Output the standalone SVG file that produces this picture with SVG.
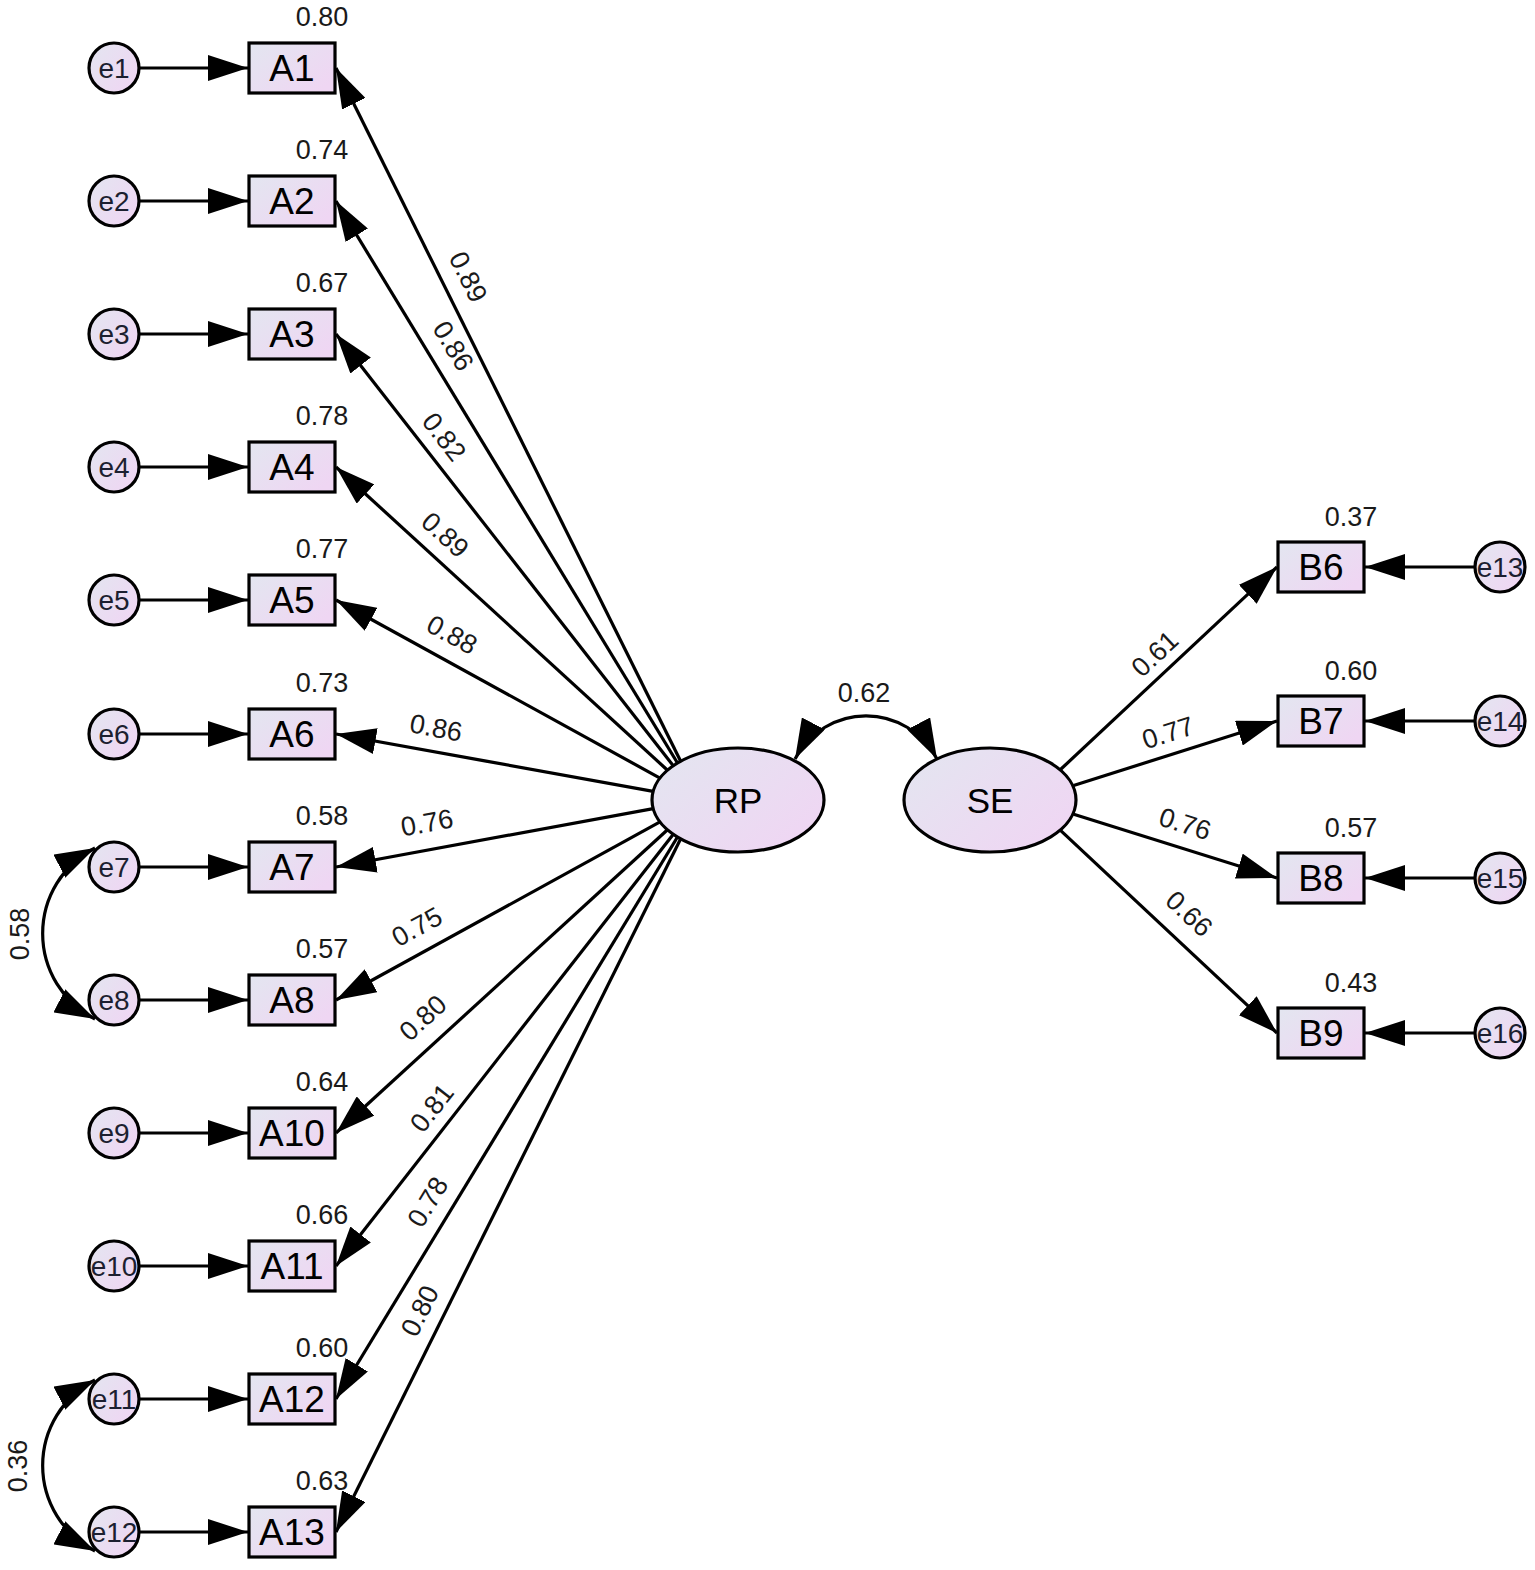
<svg xmlns="http://www.w3.org/2000/svg" width="1535" height="1570" viewBox="0 0 1535 1570">
<defs>
<linearGradient id="fill" x1="0" y1="0" x2="1" y2="0.7">
<stop offset="0" stop-color="#e3e6f0"/>
<stop offset="1" stop-color="#efd6f3"/>
</linearGradient>
<marker id="ah" viewBox="0 0 40 26" markerWidth="40" markerHeight="26" refX="40" refY="13" orient="auto" markerUnits="userSpaceOnUse">
<path d="M0,0 L40,13 L0,26 Z" fill="#000"/>
</marker>
<marker id="ah2" viewBox="0 0 40 26" markerWidth="40" markerHeight="26" refX="40" refY="13" orient="auto-start-reverse" markerUnits="userSpaceOnUse">
<path d="M0,0 L40,13 L0,26 Z" fill="#000"/>
</marker>
</defs>
<style>
.node{fill:url(#fill);stroke:#000;stroke-width:3.2}
.ln{stroke:#000;stroke-width:3.2;fill:none;marker-end:url(#ah)}
.cov{stroke:#000;stroke-width:3.2;fill:none;marker-start:url(#ah2);marker-end:url(#ah2)}
text{font-family:"Liberation Sans",Arial,sans-serif;fill:#1a1a1a}
.bx{font-size:37px;text-anchor:middle;fill:#000}
.lat{font-size:35px;text-anchor:middle;fill:#000}
.er{font-size:28px;text-anchor:middle;fill:#1c1f30}
.val{font-size:27px;text-anchor:middle}
</style>
<rect width="1535" height="1570" fill="#fff"/>

<g id="connectors">
<line class="ln" x1="139" y1="68" x2="248" y2="68"/>
<line class="ln" x1="139" y1="201" x2="248" y2="201"/>
<line class="ln" x1="139" y1="334" x2="248" y2="334"/>
<line class="ln" x1="139" y1="467" x2="248" y2="467"/>
<line class="ln" x1="139" y1="600" x2="248" y2="600"/>
<line class="ln" x1="139" y1="734" x2="248" y2="734"/>
<line class="ln" x1="139" y1="867" x2="248" y2="867"/>
<line class="ln" x1="139" y1="1000" x2="248" y2="1000"/>
<line class="ln" x1="139" y1="1133" x2="248" y2="1133"/>
<line class="ln" x1="139" y1="1266" x2="248" y2="1266"/>
<line class="ln" x1="139" y1="1399" x2="248" y2="1399"/>
<line class="ln" x1="139" y1="1532" x2="248" y2="1532"/>

<line class="ln" x1="1475" y1="567" x2="1365" y2="567"/>
<line class="ln" x1="1475" y1="721" x2="1365" y2="721"/>
<line class="ln" x1="1475" y1="878" x2="1365" y2="878"/>
<line class="ln" x1="1475" y1="1033" x2="1365" y2="1033"/>

<line class="ln" x1="680.7" y1="761.2" x2="336" y2="68"/>
<line class="ln" x1="677.5" y1="763.0" x2="336" y2="201"/>
<line class="ln" x1="673.3" y1="765.8" x2="336" y2="334"/>
<line class="ln" x1="667.5" y1="770.2" x2="336" y2="467"/>
<line class="ln" x1="660.0" y1="778.1" x2="336" y2="600"/>
<line class="ln" x1="653.2" y1="791.4" x2="336" y2="734"/>
<line class="ln" x1="653.2" y1="808.6" x2="336" y2="867"/>
<line class="ln" x1="660.0" y1="821.9" x2="336" y2="1000"/>
<line class="ln" x1="667.5" y1="829.8" x2="336" y2="1133"/>
<line class="ln" x1="673.3" y1="834.2" x2="336" y2="1266"/>
<line class="ln" x1="677.5" y1="837.0" x2="336" y2="1399"/>
<line class="ln" x1="680.7" y1="838.8" x2="336" y2="1532"/>

<line class="ln" x1="1060.5" y1="769.5" x2="1277" y2="567"/>
<line class="ln" x1="1073.6" y1="785.5" x2="1277" y2="721"/>
<line class="ln" x1="1073.7" y1="814.3" x2="1277" y2="878"/>
<line class="ln" x1="1060.5" y1="830.4" x2="1277" y2="1033"/>

<path class="cov" d="M795,759 A80,80 0 0,1 937,759"/>
<path class="cov" d="M95,848 A96,96 0 0,0 95,1019"/>
<path class="cov" d="M95,1380 A96,96 0 0,0 95,1551"/>

<g id="path-labels">
<text class="val" transform="translate(468,277) rotate(63.7)" y="9">0.89</text>
<text class="val" transform="translate(453,346) rotate(58.8)" y="9">0.86</text>
<text class="val" transform="translate(444,437) rotate(52)" y="9">0.82</text>
<text class="val" transform="translate(445,535) rotate(42.5)" y="9">0.89</text>
<text class="val" transform="translate(452,635) rotate(28.6)" y="9">0.88</text>
<text class="val" transform="translate(436,728) rotate(10.4)" y="9">0.86</text>
<text class="val" transform="translate(427,823) rotate(-10.4)" y="9">0.76</text>
<text class="val" transform="translate(417,927) rotate(-28.6)" y="9">0.75</text>
<text class="val" transform="translate(423,1018) rotate(-42.5)" y="9">0.80</text>
<text class="val" transform="translate(432,1108) rotate(-52)" y="9">0.81</text>
<text class="val" transform="translate(428,1202) rotate(-58.8)" y="9">0.78</text>
<text class="val" transform="translate(420,1311) rotate(-63.7)" y="9">0.80</text>
<text class="val" transform="translate(1155,654) rotate(-43.2)" y="9">0.61</text>
<text class="val" transform="translate(1168,733) rotate(-17.8)" y="9">0.77</text>
<text class="val" transform="translate(1185,824) rotate(17.5)" y="9">0.76</text>
<text class="val" transform="translate(1189,914) rotate(43.1)" y="9">0.66</text>
<text class="val" x="864" y="702">0.62</text>
<text class="val" transform="translate(20,934) rotate(-90)" y="9">0.58</text>
<text class="val" transform="translate(18,1466) rotate(-90)" y="9">0.36</text>
</g>
</g>

<g id="RP"><ellipse class="node" cx="738" cy="800" rx="86" ry="52"/><text class="lat" x="738" y="813">RP</text></g>
<g id="SE"><ellipse class="node" cx="990" cy="800" rx="86" ry="52"/><text class="lat" x="990" y="813">SE</text></g>

<g id="A1"><rect class="node" x="249" y="43" width="86" height="50"/><text class="bx" x="292" y="81">A1</text><text class="val" x="322" y="26">0.80</text></g>
<g id="A2"><rect class="node" x="249" y="176" width="86" height="50"/><text class="bx" x="292" y="214">A2</text><text class="val" x="322" y="159">0.74</text></g>
<g id="A3"><rect class="node" x="249" y="309" width="86" height="50"/><text class="bx" x="292" y="347">A3</text><text class="val" x="322" y="292">0.67</text></g>
<g id="A4"><rect class="node" x="249" y="442" width="86" height="50"/><text class="bx" x="292" y="480">A4</text><text class="val" x="322" y="425">0.78</text></g>
<g id="A5"><rect class="node" x="249" y="575" width="86" height="50"/><text class="bx" x="292" y="613">A5</text><text class="val" x="322" y="558">0.77</text></g>
<g id="A6"><rect class="node" x="249" y="709" width="86" height="50"/><text class="bx" x="292" y="747">A6</text><text class="val" x="322" y="692">0.73</text></g>
<g id="A7"><rect class="node" x="249" y="842" width="86" height="50"/><text class="bx" x="292" y="880">A7</text><text class="val" x="322" y="825">0.58</text></g>
<g id="A8"><rect class="node" x="249" y="975" width="86" height="50"/><text class="bx" x="292" y="1013">A8</text><text class="val" x="322" y="958">0.57</text></g>
<g id="A10"><rect class="node" x="249" y="1108" width="86" height="50"/><text class="bx" x="292" y="1146">A10</text><text class="val" x="322" y="1091">0.64</text></g>
<g id="A11"><rect class="node" x="249" y="1241" width="86" height="50"/><text class="bx" x="292" y="1279">A11</text><text class="val" x="322" y="1224">0.66</text></g>
<g id="A12"><rect class="node" x="249" y="1374" width="86" height="50"/><text class="bx" x="292" y="1412">A12</text><text class="val" x="322" y="1357">0.60</text></g>
<g id="A13"><rect class="node" x="249" y="1507" width="86" height="50"/><text class="bx" x="292" y="1545">A13</text><text class="val" x="322" y="1490">0.63</text></g>

<g id="B6"><rect class="node" x="1278" y="542" width="86" height="50"/><text class="bx" x="1321" y="580">B6</text><text class="val" x="1351" y="526">0.37</text></g>
<g id="B7"><rect class="node" x="1278" y="696" width="86" height="50"/><text class="bx" x="1321" y="734">B7</text><text class="val" x="1351" y="680">0.60</text></g>
<g id="B8"><rect class="node" x="1278" y="853" width="86" height="50"/><text class="bx" x="1321" y="891">B8</text><text class="val" x="1351" y="837">0.57</text></g>
<g id="B9"><rect class="node" x="1278" y="1008" width="86" height="50"/><text class="bx" x="1321" y="1046">B9</text><text class="val" x="1351" y="992">0.43</text></g>

<g id="e1"><circle class="node" cx="114" cy="68" r="25"/><text class="er" x="114" y="78">e1</text></g>
<g id="e2"><circle class="node" cx="114" cy="201" r="25"/><text class="er" x="114" y="211">e2</text></g>
<g id="e3"><circle class="node" cx="114" cy="334" r="25"/><text class="er" x="114" y="344">e3</text></g>
<g id="e4"><circle class="node" cx="114" cy="467" r="25"/><text class="er" x="114" y="477">e4</text></g>
<g id="e5"><circle class="node" cx="114" cy="600" r="25"/><text class="er" x="114" y="610">e5</text></g>
<g id="e6"><circle class="node" cx="114" cy="734" r="25"/><text class="er" x="114" y="744">e6</text></g>
<g id="e7"><circle class="node" cx="114" cy="867" r="25"/><text class="er" x="114" y="877">e7</text></g>
<g id="e8"><circle class="node" cx="114" cy="1000" r="25"/><text class="er" x="114" y="1010">e8</text></g>
<g id="e9"><circle class="node" cx="114" cy="1133" r="25"/><text class="er" x="114" y="1143">e9</text></g>
<g id="e10"><circle class="node" cx="114" cy="1266" r="25"/><text class="er" x="114" y="1276">e10</text></g>
<g id="e11"><circle class="node" cx="114" cy="1399" r="25"/><text class="er" x="114" y="1409">e11</text></g>
<g id="e12"><circle class="node" cx="114" cy="1532" r="25"/><text class="er" x="114" y="1542">e12</text></g>
<g id="e13"><circle class="node" cx="1500" cy="567" r="25"/><text class="er" x="1500" y="577">e13</text></g>
<g id="e14"><circle class="node" cx="1500" cy="721" r="25"/><text class="er" x="1500" y="731">e14</text></g>
<g id="e15"><circle class="node" cx="1500" cy="878" r="25"/><text class="er" x="1500" y="888">e15</text></g>
<g id="e16"><circle class="node" cx="1500" cy="1033" r="25"/><text class="er" x="1500" y="1043">e16</text></g>
</svg>
